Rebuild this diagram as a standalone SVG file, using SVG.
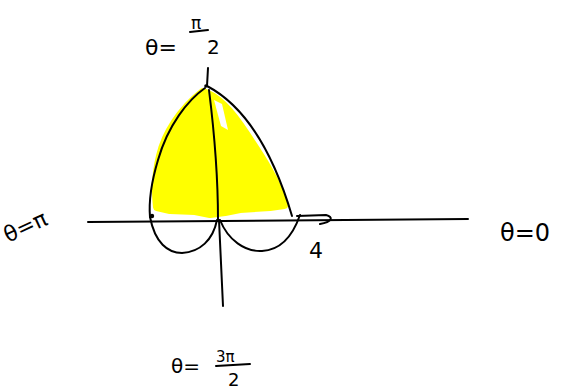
<svg xmlns="http://www.w3.org/2000/svg" width="580" height="391" viewBox="0 0 580 391">
<style>
.ln{fill:none;stroke:#000;stroke-width:2;stroke-linecap:round;stroke-linejoin:round}
.t{font-family:"DejaVu Sans","Liberation Sans",sans-serif;fill:#000}
</style>
<rect width="580" height="391" fill="#fff"/>
<!-- yellow shading -->
<path d="M203,92 C218,96 232,112 246,134 C262,158 278,182 284,205 L270,207 L240,209 L225,212 L210,214 L195,211 L170,210 L157,207 C155,190 156,172 160,156 C165,134 180,110 203,92 Z" fill="#ffff00" stroke="#ffff00" stroke-width="8" stroke-linejoin="round"/>
<path d="M214,100 L222,104 L228,130 L221,126 Z" fill="#fff"/>
<!-- curves and axes -->
<g id="axes">
<path class="ln" d="M88,222 L468,219"/>
<path class="ln" d="M208,68 L207,86"/>
<path class="ln" d="M219,220 L223,306"/>
</g>
<g id="curves">
<path class="ln" d="M207,86 Q262,115 292,216"/>
<path class="ln" d="M205,88 C188,100 168,125 158,160 C149,190 149,205 150,217"/>
<path class="ln" d="M209,90 C214,130 218,180 218,220"/>
<path class="ln" d="M150,217 C155,243 168,253 182,253 C200,252 213,240 217,220"/>
<path class="ln" d="M220,220 C228,240 245,252 262,251 C282,250 293,235 300,215"/>
<path class="ln" d="M297,216 L326,215 C334,217 332,222 320,224"/>
<circle cx="152" cy="216" r="2.2" fill="#000"/>
<circle cx="206" cy="86" r="1.8" fill="#000"/>
</g>
<!-- labels -->
<g id="label-top">
<text class="t" x="145" y="55" font-size="22">θ=</text>
<text class="t" x="191" y="29" font-size="17">π</text>
<path class="ln" d="M190,32 L208,30" stroke-width="1.6"/>
<text class="t" x="207" y="54" font-size="20">2</text>
</g>
<g id="label-left">
<text class="t" x="8" y="243" font-size="22" transform="rotate(-25 8 243)">θ=π</text>
</g>
<g id="label-right">
<text class="t" x="500" y="241" font-size="24">θ=0</text>
</g>
<g id="label-bottom">
<text class="t" x="171" y="373" font-size="20">θ=</text>
<text class="t" x="216" y="362" font-size="15">3π</text>
<path class="ln" d="M216,366 L250,364" stroke-width="1.6"/>
<text class="t" x="228" y="386" font-size="18">2</text>
</g>
<g id="label-4">
<text class="t" x="309" y="258" font-size="22">4</text>
</g>
</svg>
